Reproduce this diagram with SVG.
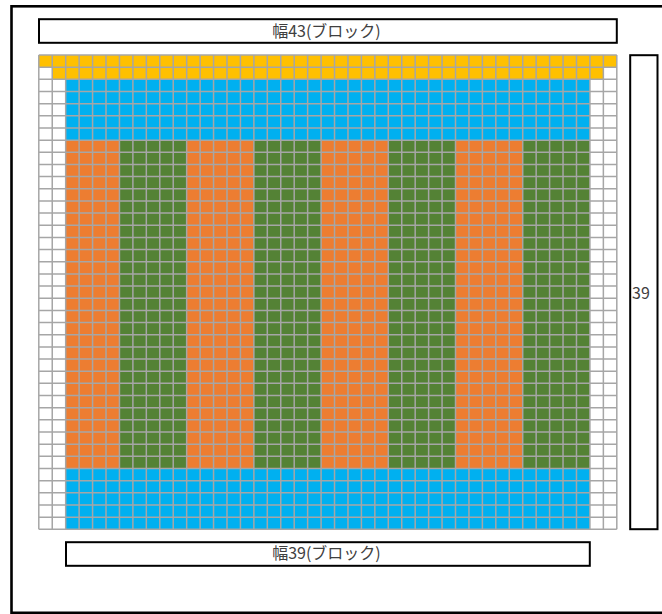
<svg xmlns="http://www.w3.org/2000/svg" width="662" height="614" viewBox="0 0 662 614">
<style>
.box{fill:#fff;stroke:#000;stroke-width:2}
.lbl{font-family:"Noto Sans CJK JP","Noto Sans",sans-serif;font-size:16px;fill:#404040;text-anchor:middle}
.y{fill:#FFC000}.b{fill:#00B0F0}.o{fill:#ED7D31}.g{fill:#548235}
.grid{fill:none;stroke:#A6A6A6;stroke-width:1.5}
</style>
<rect width="662" height="614" fill="#fff"/>
<rect id="frame" x="11.5" y="6.3" width="660" height="606.5" fill="none" stroke="#000" stroke-width="2.6"/>
<g id="top-label"><rect class="box" x="39" y="19.2" width="577.8" height="23.6"/><text class="lbl" x="326.5" y="36.5">幅43(ブロック)</text></g>
<g id="bottom-label"><rect class="box" x="66" y="542.2" width="523.8" height="23.6"/><text class="lbl" x="326.5" y="559">幅39(ブロック)</text></g>
<g id="height-label"><rect class="box" x="630.2" y="55.2" width="27.3" height="474"/><text class="lbl" x="641" y="298.5">39</text></g>
<g id="grid" transform="translate(38.8,55) scale(13.442,12.162)">
<rect class="y" x="0" y="0" width="43" height="1"/>
<rect class="y" x="1" y="1" width="41" height="1"/>
<rect class="b" x="2" y="2" width="39" height="5"/>
<rect class="b" x="2" y="34" width="39" height="5"/>
<rect class="o" x="2" y="7" width="4" height="27"/>
<rect class="g" x="6" y="7" width="5" height="27"/>
<rect class="o" x="11" y="7" width="5" height="27"/>
<rect class="g" x="16" y="7" width="5" height="27"/>
<rect class="o" x="21" y="7" width="5" height="27"/>
<rect class="g" x="26" y="7" width="5" height="27"/>
<rect class="o" x="31" y="7" width="5" height="27"/>
<rect class="g" x="36" y="7" width="5" height="27"/>
<path class="grid" vector-effect="non-scaling-stroke" d="M0 0V39M1 0V39M2 0V39M3 0V39M4 0V39M5 0V39M6 0V39M7 0V39M8 0V39M9 0V39M10 0V39M11 0V39M12 0V39M13 0V39M14 0V39M15 0V39M16 0V39M17 0V39M18 0V39M19 0V39M20 0V39M21 0V39M22 0V39M23 0V39M24 0V39M25 0V39M26 0V39M27 0V39M28 0V39M29 0V39M30 0V39M31 0V39M32 0V39M33 0V39M34 0V39M35 0V39M36 0V39M37 0V39M38 0V39M39 0V39M40 0V39M41 0V39M42 0V39M43 0V39M0 0H43M0 1H43M0 2H43M0 3H43M0 4H43M0 5H43M0 6H43M0 7H43M0 8H43M0 9H43M0 10H43M0 11H43M0 12H43M0 13H43M0 14H43M0 15H43M0 16H43M0 17H43M0 18H43M0 19H43M0 20H43M0 21H43M0 22H43M0 23H43M0 24H43M0 25H43M0 26H43M0 27H43M0 28H43M0 29H43M0 30H43M0 31H43M0 32H43M0 33H43M0 34H43M0 35H43M0 36H43M0 37H43M0 38H43M0 39H43"/>
</g>
</svg>
